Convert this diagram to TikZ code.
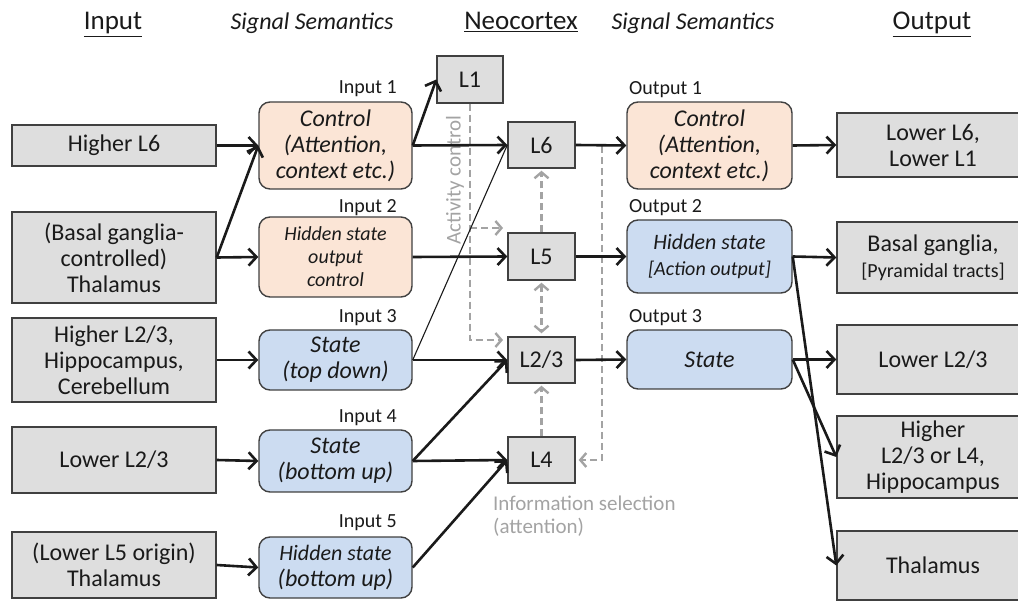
\documentclass[tikz,border=0pt]{standalone}
\usepackage{fontspec}
\setmainfont{Carlito}
\usetikzlibrary{arrows.meta,calc}
\definecolor{boxgray}{HTML}{DEDEDE}
\definecolor{boxline}{HTML}{404040}
\definecolor{peach}{HTML}{FBE5D6}
\definecolor{paleblue}{HTML}{CCDCF1}
\definecolor{notegray}{HTML}{A3A3A3}
\definecolor{ink}{HTML}{1A1A1A}

\tikzset{
  box/.style={draw=boxline, line width=1.4pt, inner sep=0pt, align=center,
    text=ink, font=\fontsize{24}{26}\selectfont},
  graybox/.style={box, fill=boxgray},
  ctrlbox/.style={box, fill=peach, rounded corners=11pt,
    font=\fontsize{24}{26}\selectfont\itshape},
  statebox/.style={box, fill=paleblue, rounded corners=11pt,
    font=\fontsize{24}{26}\selectfont\itshape},
  header/.style={anchor=base, text=ink, font=\fontsize{27}{30}\selectfont},
  subheader/.style={anchor=base, text=ink, font=\fontsize{24}{28}\selectfont\itshape},
  tag/.style={text=ink, inner sep=0pt, font=\fontsize{20}{22}\selectfont},
  note/.style={text=notegray, inner sep=0pt, font=\fontsize{21}{23}\selectfont},
  link/.style={draw=ink, line width=2.6pt,
    -{Straight Barb[length=8pt,width=17pt]}},
  thinlink/.style={draw=ink, line width=1.1pt},
  dashlink/.style={draw=notegray, line width=2.4pt, dash pattern=on 7pt off 4pt,
    -{Straight Barb[length=6pt,width=14pt]}},
}

\begin{document}
\begin{tikzpicture}[x=1pt, y=-1pt]
\useasboundingbox (0,0) rectangle (1018,601);

% column headers
\node[header]    (hIn)   at (113,30) {\underline{Input}};
\node[subheader] (hSem1) at (312,30) {Signal Semantics};
\node[header]    (hNeo)  at (521,30) {\underline{Neocortex}};
\node[subheader] (hSem2) at (693,30) {Signal Semantics};
\node[header]    (hOut)  at (932,30) {\underline{Output}};

% sources
\node[graybox, minimum width=204pt, minimum height=41pt] (A1) at (114,145.5) {Higher L6};
\node[graybox, minimum width=204pt, minimum height=91pt] (A2) at (114,257.5) {(Basal ganglia-\\controlled)\\Thalamus};
\node[graybox, minimum width=204pt, minimum height=84pt] (A3) at (114,360) {Higher L2/3,\\Hippocampus,\\Cerebellum};
\node[graybox, minimum width=204pt, minimum height=66pt] (A4) at (114,460) {Lower L2/3};
\node[graybox, minimum width=204pt, minimum height=66pt] (A5) at (114,565) {(Lower L5 origin)\\Thalamus};

% input signal semantics
\node[ctrlbox, minimum width=153pt, minimum height=87pt] (B1) at (335.5,145.5) {Control\\(Attention,\\context etc.)};
\node[ctrlbox, minimum width=153pt, minimum height=80pt, font=\fontsize{20}{23}\selectfont\itshape] (B2) at (335.5,257) {Hidden state\\output\\control};
\node[statebox, minimum width=153pt, minimum height=60pt] (B3) at (335.5,360) {State\\(top down)};
\node[statebox, minimum width=153pt, minimum height=62pt] (B4) at (335.5,461) {State\\(bottom up)};
\node[statebox, minimum width=153pt, minimum height=61pt] (B5) at (335.5,567.5) {{\fontsize{22}{26}\selectfont Hidden state}\\(bottom up)};

\node[tag, anchor=base east] (tIn1) at (397,94)  {Input 1};
\node[tag, anchor=base east] (tIn2) at (397,213) {Input 2};
\node[tag, anchor=base east] (tIn3) at (397,323) {Input 3};
\node[tag, anchor=base east] (tIn4) at (397,423) {Input 4};
\node[tag, anchor=base east] (tIn5) at (397,527) {Input 5};

% cortical layers
\node[graybox, minimum width=66pt, minimum height=47pt] (L1)  at (470,79.5) {L1};
\node[graybox, minimum width=67pt, minimum height=46pt] (L6)  at (541.5,145) {L6};
\node[graybox, minimum width=67pt, minimum height=47pt] (L5)  at (541.5,256.5) {L5};
\node[graybox, minimum width=67pt, minimum height=46pt] (L23) at (541.5,360) {L2/3};
\node[graybox, minimum width=67pt, minimum height=46pt] (L4)  at (541.5,460) {L4};

% output signal semantics
\node[ctrlbox, minimum width=165pt, minimum height=87pt] (C1) at (709.5,145.5) {Control\\(Attention,\\context etc.)};
\node[statebox, minimum width=165pt, minimum height=73pt] (C2) at (709.5,256.5) {{\fontsize{22}{25}\selectfont Hidden state}\\{\fontsize{20}{24}\selectfont [Action output]}};
\node[statebox, minimum width=165pt, minimum height=59pt] (C3) at (709.5,359.5) {State};

\node[tag, anchor=base west] (tOut1) at (629,95)  {Output 1};
\node[tag, anchor=base west] (tOut2) at (629,213) {Output 2};
\node[tag, anchor=base west] (tOut3) at (629,323) {Output 3};

% targets
\node[graybox, minimum width=192pt, minimum height=64pt] (D1) at (933,145) {Lower L6,\\Lower L1};
\node[graybox, minimum width=192pt, minimum height=71pt] (D2) at (933,257.5) {Basal ganglia,\\{\fontsize{20}{24}\selectfont [Pyramidal tracts]}};
\node[graybox, minimum width=192pt, minimum height=69pt] (D3) at (933,359.5) {Lower L2/3};
\node[graybox, minimum width=192pt, minimum height=82pt] (D4) at (933,457) {Higher\\L2/3 or L4,\\Hippocampus};
\node[graybox, minimum width=192pt, minimum height=69pt] (D5) at (933,565.5) {Thalamus};

% gray annotations
\node[note, rotate=90] (actNote) at (455,180) {Activity control};
\node[note, anchor=north west, align=left] (selNote) at (493,496) {Information selection\\(attention)};

% dashed modulatory pathways
\coordinate (toL5)  at (503,228);
\coordinate (toL23) at (503,340);
\coordinate (tap)   at (602,146);
\draw[dashlink] (L1.south) -- (L1.south |- toL23) -- (toL23);
\draw[dashlink] (L1.south |- toL5) -- (toL5);
\draw[dashlink] (tap) |- ($(L4.east)+(3,0)$);
\draw[dashlink] (L5.north) -- ($(L6.south)+(0,2)$);
\draw[dashlink, {Straight Barb[length=6pt,width=14pt]}-{Straight Barb[length=6pt,width=14pt]}]
  ($(L5.south)+(0,2)$) -- ($(L23.north)+(0,-3)$);
\draw[dashlink] (L4.north) -- ($(L23.south)+(0,2)$);

% feedforward / feedback pathways
\draw[link] (A1.east) -- (B1.west);
\draw[link] (A2.east) -- (B1.west);
\draw[link] (A2.east) -- (B2.west);
\draw[link] (A3.east) -- (B3.west);
\draw[link] (A4.east) -- (B4.west);
\draw[link] (A5.east) -- (B5.west);

\draw[link] (B1.east) -- (L1.west);
\draw[link] (B1.east) -- (L6.west);
\draw[link] (B2.east) -- (L5.west);
\draw[thinlink] (B3.east) -- (L6.west);
\draw[link] (B3.east) -- (L23.west);
\draw[link] (B4.east) -- (L23.west);
\draw[link] (B4.east) -- (L4.west);
\draw[link] (B5.east) -- (L4.west);

\draw[link] (L6.east) -- (C1.west);
\draw[link] (L5.east) -- (C2.west);
\draw[link] (L23.east) -- (C3.west);

\draw[link] (C1.east) -- (D1.west);
\draw[link] (C2.east) -- (D2.west);
\draw[link] (C2.east) -- (D5.west);
\draw[link] (C3.east) -- (D3.west);
\draw[link] (C3.east) -- (D4.west);
\end{tikzpicture}
\end{document}
